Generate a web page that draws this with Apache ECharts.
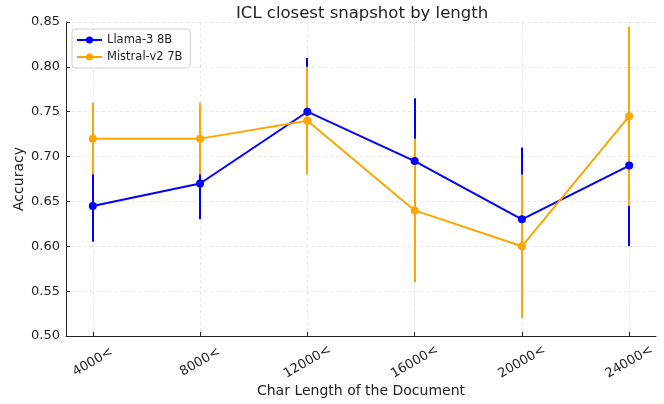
<!DOCTYPE html>
<html>
<head>
<meta charset="utf-8">
<script src="https://cdn.jsdelivr.net/npm/echarts@6/dist/echarts.min.js"></script>
<style>
  html, body { margin: 0; padding: 0; background: #fff; }
  #main { width: 664px; height: 404px; }
</style>
</head>
<body>
<div id="main"></div>
<script>
// categories on the x axis
const categories = ['4000<', '8000<', '12000<', '16000<', '20000<', '24000<'];
const tickIndex = [0, 1, 2, 3, 4, 5];

// accuracy and error half-widths
const llamaAcc = [0.645, 0.67, 0.75, 0.695, 0.63, 0.69];
const llamaErr = [0.04, 0.04, 0.06, 0.07, 0.08, 0.09];
const mistralAcc = [0.72, 0.72, 0.74, 0.64, 0.60, 0.745];
const mistralErr = [0.04, 0.04, 0.06, 0.08, 0.08, 0.10];

const BLUE = '#0000ff';
const ORANGE = '#ffa500';
const FONT = 'DejaVu Sans';

function lineData(acc) {
  return acc.map(function (v, i) { return [tickIndex[i], v]; });
}

function errData(acc, err) {
  return acc.map(function (v, i) { return [tickIndex[i], v - err[i], v + err[i]]; });
}

// vertical error bars, drawn under the lines
function errSeries(name, acc, err, color) {
  return {
    name: name,
    type: 'custom',
    z: 1,
    data: errData(acc, err),
    encode: { x: 0, y: [1, 2] },
    renderItem: function (params, api) {
      var lo = api.coord([api.value(0), api.value(1)]);
      var hi = api.coord([api.value(0), api.value(2)]);
      var x = Math.round(lo[0]);
      return {
        type: 'line',
        shape: { x1: x, y1: lo[1], x2: x, y2: hi[1] },
        style: { stroke: color, lineWidth: 2 }
      };
    },
    silent: true
  };
}

function lineSeries(name, acc, color) {
  return {
    name: name,
    type: 'line',
    z: 2,
    data: lineData(acc),
    symbol: 'circle',
    symbolSize: 8,
    itemStyle: { color: color },
    lineStyle: { color: color, width: 2 }
  };
}

var chart = echarts.init(document.getElementById('main'), null, { renderer: 'canvas' });

var option = {
  animation: false,
  backgroundColor: '#fff',
  textStyle: { fontFamily: FONT },
  title: {
    text: 'ICL closest snapshot by length',
    left: 231,
    top: 0,
    textStyle: { fontFamily: FONT, fontSize: 16.5, fontWeight: 'normal', color: '#222' }
  },
  legend: {
    orient: 'vertical',
    left: 72,
    top: 29,
    data: ['Llama-3 8B', 'Mistral-v2 7B'],
    itemWidth: 25,
    itemHeight: 9,
    itemGap: 5,
    padding: [5, 8, 5, 4],
    borderColor: '#d0d0d0',
    borderWidth: 1,
    borderRadius: 3,
    backgroundColor: 'rgba(255,255,255,0.8)',
    textStyle: { fontFamily: FONT, fontSize: 11.5, color: '#222' }
  },
  grid: { left: 66, right: 8, top: 22, bottom: 68, outerBoundsMode: 'none' },
  xAxis: {
    type: 'value',
    min: -0.25,
    max: 5.25,
    name: 'Char Length of the Document',
    nameLocation: 'middle',
    nameGap: 48,
    nameMoveOverlap: false,
    nameTextStyle: { fontFamily: FONT, fontSize: 14, color: '#222' },
    axisLine: { show: true, onZero: false, lineStyle: { color: '#222', width: 1 } },
    axisTick: { show: true, inside: true, length: 4, customValues: tickIndex, lineStyle: { color: '#222' } },
    axisLabel: {
      customValues: tickIndex,
      rotate: 30,
      align: 'center',
      verticalAlign: 'middle',
      margin: 26,
      fontFamily: FONT,
      fontSize: 13,
      color: '#222',
      formatter: function (v) { return categories[Math.round(v)]; }
    },
    splitLine: { show: true, lineStyle: { color: '#e8e8e8', type: [3, 3], width: 1 } }
  },
  yAxis: {
    type: 'value',
    min: 0.5,
    max: 0.85,
    interval: 0.05,
    name: 'Accuracy',
    nameLocation: 'middle',
    nameGap: 40,
    nameMoveOverlap: false,
    nameTextStyle: { fontFamily: FONT, fontSize: 14, color: '#222' },
    axisLine: { show: true, onZero: false, lineStyle: { color: '#222', width: 1 } },
    axisTick: { show: true, inside: true, length: 4, lineStyle: { color: '#222' } },
    axisLabel: {
      fontFamily: FONT,
      fontSize: 13,
      color: '#222',
      margin: 6,
      formatter: function (v) { return v.toFixed(2); }
    },
    splitLine: { show: true, lineStyle: { color: '#e8e8e8', type: [3, 3], width: 1 } }
  },
  series: [
    errSeries('llama-err', llamaAcc, llamaErr, BLUE),
    lineSeries('Llama-3 8B', llamaAcc, BLUE),
    errSeries('mistral-err', mistralAcc, mistralErr, ORANGE),
    lineSeries('Mistral-v2 7B', mistralAcc, ORANGE)
  ]
};

chart.setOption(option);
</script>
</body>
</html>
